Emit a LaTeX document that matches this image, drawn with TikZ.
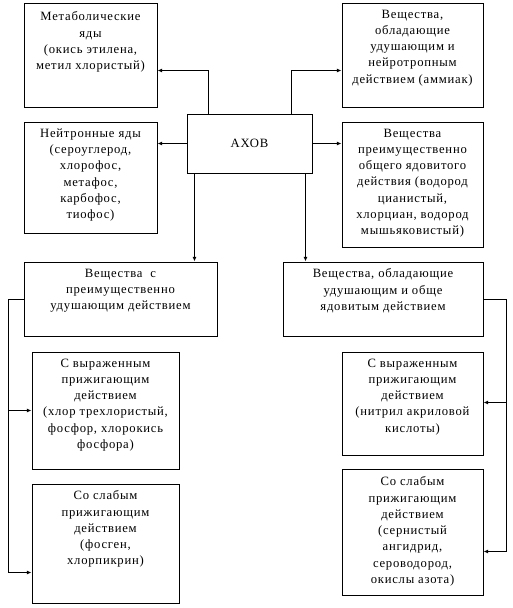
\documentclass[tikz,border=0pt]{standalone}
\usepackage{fontspec}
\setmainfont[LetterSpace=6]{Liberation Serif}
\usetikzlibrary{calc,arrows.meta}
\begin{document}
\begin{tikzpicture}[x=0.75pt,y=-0.75pt,
  box/.style={draw,line width=0.75pt,inner sep=0pt,rectangle},
  txt/.style={inner sep=0pt,align=center,anchor=north,font=\fontsize{9.5pt}{12.2pt}\selectfont},
  arr/.style={line width=0.75pt,-{Latex[length=3.5pt,width=3pt]}},
  ln/.style={line width=0.75pt}]
\useasboundingbox (0,0) rectangle (512,608);
% boxes
\node[box,minimum width=99.75pt,minimum height=78pt] (m1) at (90.5,55) {};
\node[box,minimum width=105.75pt,minimum height=78pt] (m2) at (412.5,55) {};
\node[box,minimum width=93.75pt,minimum height=44.25pt,font=\fontsize{9.5pt}{12.2pt}\selectfont] (axov) at (249.5,143.5) {АХОВ};
\node[box,minimum width=99.75pt,minimum height=83.25pt] (n3) at (90.5,177.5) {};
\node[box,minimum width=105.75pt,minimum height=93.75pt] (n4) at (412.5,184.5) {};
\node[box,minimum width=144.75pt,minimum height=55.5pt] (n5) at (120.5,299) {};
\node[box,minimum width=150pt,minimum height=55.5pt] (n6) at (383,299) {};
\node[box,minimum width=110.25pt,minimum height=87.75pt] (n7) at (105.5,410.5) {};
\node[box,minimum width=110.25pt,minimum height=89.25pt] (n8) at (105.5,543.5) {};
\node[box,minimum width=105.75pt,minimum height=77.25pt] (n9) at (412.5,403.5) {};
\node[box,minimum width=105.75pt,minimum height=94.5pt] (n10) at (412.5,532) {};
% texts
\node[txt] (t1) at ($(m1.north)+(0,9)$) {Метаболические\\яды\\(окись этилена,\\метил хлористый)};
\node[txt] (t2) at ($(m2.north)+(0,7)$) {Вещества,\\обладающие\\удушающим и\\нейротропным\\действием (аммиак)};
\node[txt] (t3) at ($(n3.north)+(0,7)$) {Нейтронные яды\\(сероуглерод,\\хлорофос,\\метафос,\\карбофос,\\тиофос)};
\node[txt] (t4) at ($(n4.north)+(0,7)$) {Вещества\\преимущественно\\общего ядовитого\\действия (водород\\цианистый,\\хлорциан, водород\\мышьяковистый)};
\node[txt] (t5) at ($(n5.north)+(0,7)$) {Вещества~~с\\преимущественно\\удушающим действием};
\node[txt] (t6) at ($(n6.north)+(0,7)$) {Вещества, обладающие\\удушающим и обще\\ядовитым действием};
\node[txt] (t7) at ($(n7.north)+(0,7)$) {С выраженным\\прижигающим\\действием\\(хлор трехлористый,\\фосфор, хлорокись\\фосфора)};
\node[txt] (t8) at ($(n8.north)+(0,7)$) {Со слабым\\прижигающим\\действием\\(фосген,\\хлорпикрин)};
\node[txt] (t9) at ($(n9.north)+(0,7)$) {С выраженным\\прижигающим\\действием\\(нитрил акриловой\\кислоты)};
\node[txt] (t10) at ($(n10.north)+(0,8)$) {Со слабым\\прижигающим\\действием\\(сернистый\\ангидрид,\\сероводород,\\окислы азота)};
% connectors
\coordinate (a1) at ($(axov.north west)+(22,0)$);
\coordinate (a2) at ($(axov.north east)+(-21,0)$);
\draw[arr] (a1) |- ($(m1.north east)+(0,68)$);
\draw[arr] (a2) |- ($(m2.north west)+(0,68)$);
\draw[arr] (axov.west) -- (axov.west -| n3.east);
\draw[arr] (axov.east) -- (axov.east -| n4.west);
\coordinate (a5) at ($(axov.south west)+(8,0)$);
\coordinate (a6) at ($(axov.south east)+(-7,0)$);
\draw[arr] (a5) -- (a5 |- n5.north);
\draw[arr] (a6) -- (a6 |- n6.north);
\coordinate (l5) at ($(n5.west)+(-15,0)$);
\draw[arr] (n5.west) -- (l5) |- ($(n7.north west)+(0,59)$);
\draw[arr] (l5) |- ($(n8.north west)+(0,89)$);
\coordinate (r6) at ($(n6.east)+(23,0)$);
\draw[arr] (n6.east) -- (r6) |- ($(n9.north east)+(0,51)$);
\draw[arr] (r6) |- ($(n10.north east)+(0,83)$);
\end{tikzpicture}
\end{document}
